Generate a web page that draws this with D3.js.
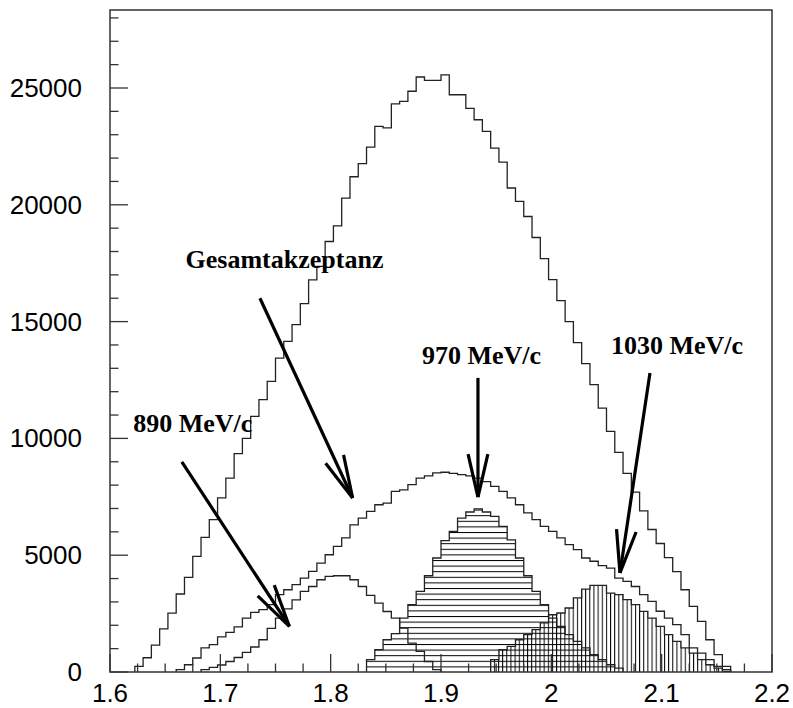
<!DOCTYPE html>
<html>
<head>
<meta charset="utf-8">
<script src="https://cdn.jsdelivr.net/npm/d3@7"></script>
<style>
  html, body { margin: 0; padding: 0; background: #fff; }
  svg { display: block; }
</style>
</head>
<body>
<svg id="chart" width="793" height="708"></svg>
<script>
// ---- data ----
const binStart = 1.6;
const binWidth = 0.0075;
const xTickLabels = ["1.6", "1.7", "1.8", "1.9", "2", "2.1", "2.2"];
const xTickValues = [1.6, 1.7, 1.8, 1.9, 2.0, 2.1, 2.2];
const yTickValues = [0, 5000, 10000, 15000, 20000, 25000];

// total (outer)
const totalCounts = [0,0,0,240,610,1150,1850,2520,3340,4050,
  4950,5760,6520,7450,8300,9350,10000,10940,11660,12440,
  13440,14150,14870,15770,16790,17360,18430,19100,20290,21200,
  21760,22470,23360,23290,24320,24430,24860,25470,25330,25330,
  25560,24710,24710,24130,23640,23140,22430,21830,20720,20150,
  19500,18600,17700,16800,15900,15000,14100,13200,12300,11300,
  10300,9400,8500,7700,6900,6100,5500,4900,4300,3520,
  2810,2170,1380,740,240,0,0,0,0,0];
// Gesamtakzeptanz
const acceptCounts = [0,0,0,0,0,0,0,0,100,310,
  600,1030,1170,1500,1700,1930,2310,2550,2667,2880,
  3310,3520,3740,4020,4310,4665,5020,5380,5740,6300,
  6590,6880,7160,7230,7730,7800,8020,8300,8400,8520,
  8550,8500,8450,8400,8300,8150,7950,7730,7450,7160,
  6810,6520,6230,6020,5740,5450,5240,4880,4740,4550,
  4450,4020,3880,3660,3310,3020,2600,2310,2025,1600,
  1030,810,527,240,100,0,0,0,0,0];
// 890 MeV/c
const p890Counts = [0,0,0,0,0,0,0,0,0,0,
  0,100,200,300,450,620,840,1070,1380,1870,
  2310,2700,3090,3450,3660,3950,4090,4120,4120,3950,
  3660,3280,2950,2590,2310,1880,1240,880,450,100,
  0,0,0,0,0,0,0,0,0,0,
  0,0,0,0,0,0,0,0,0,0,
  0,0,0,0,0,0,0,0,0,0,
  0,0,0,0,0,0,0,0,0,0];
// 970 MeV/c (horizontal hatch)
const p970Counts = [0,0,0,0,0,0,0,0,0,0,
  0,0,0,0,0,0,0,0,0,0,
  0,0,0,0,0,0,0,0,0,0,
  0,530,955,1380,1640,2310,2880,3450,4120,4880,
  5620,6020,6590,6850,6980,6850,6660,6230,5660,4880,
  4120,3450,2880,2310,1950,1600,1310,1030,740,530,
  310,170,0,0,0,0,0,0,0,0,
  0,0,0,0,0,0,0,0,0,0];
// 1030 MeV/c (vertical hatch)
const p1030Counts = [0,0,0,0,0,0,0,0,0,0,
  0,0,0,0,0,0,0,0,0,0,
  0,0,0,0,0,0,0,0,0,0,
  0,0,0,0,0,0,0,0,0,0,
  0,0,0,0,0,0,527,955,1100,1380,
  1600,1810,2100,2450,2525,2740,3170,3550,3710,3710,
  3380,3310,3095,2880,2595,2310,1950,1600,1310,1030,
  810,527,310,170,25,0,0,0,0,0];

const labels = [
  {text: "Gesamtakzeptanz", x: 1.6685, y: 17300},
  {text: "890 MeV/c", x: 1.621, y: 10270},
  {text: "970 MeV/c", x: 1.8828, y: 13190},
  {text: "1030 MeV/c", x: 2.0540, y: 13610}
];
const arrows = [
  {x1: 1.7359, y1: 16000, x2: 1.8199, y2: 7450},
  {x1: 1.6651, y1: 9000, x2: 1.7626, y2: 1950},
  {x1: 1.9335, y1: 12590, x2: 1.9335, y2: 7490},
  {x1: 2.0894, y1: 12800, x2: 2.0622, y2: 4240}
];

// ---- drawing ----
const svg = d3.select("#chart");
const x = d3.scaleLinear().domain([1.6, 2.2]).range([110, 772]);
const y = d3.scaleLinear().domain([0, 28339]).range([672, 10]);

const defs = svg.append("defs");
defs.append("pattern").attr("id", "hatchH").attr("patternUnits", "userSpaceOnUse")
  .attr("width", 10).attr("height", 5.6)
  .append("line").attr("x1", 0).attr("x2", 10).attr("y1", 0.5).attr("y2", 0.5)
  .attr("stroke", "#000").attr("stroke-width", 1);
defs.append("pattern").attr("id", "hatchV").attr("patternUnits", "userSpaceOnUse")
  .attr("width", 4.15).attr("height", 10)
  .append("line").attr("x1", 0.5).attr("x2", 0.5).attr("y1", 0).attr("y2", 10)
  .attr("stroke", "#000").attr("stroke-width", 1);

function stepPath(counts) {
  let first = counts.findIndex(v => v > 0);
  let last = counts.length - 1;
  while (last > 0 && counts[last] === 0) last--;
  const pts = [];
  pts.push([x(binStart + first * binWidth), y(0)]);
  for (let k = first; k <= last; k++) {
    const x0 = x(binStart + k * binWidth), x1 = x(binStart + (k + 1) * binWidth);
    pts.push([x0, y(counts[k])]);
    pts.push([x1, y(counts[k])]);
  }
  pts.push([x(binStart + (last + 1) * binWidth), y(0)]);
  return d3.line()(pts);
}

const g = svg.append("g");
// hatched fills
g.append("path").attr("d", stepPath(p970Counts)).attr("fill", "url(#hatchH)").attr("stroke", "none");
g.append("path").attr("d", stepPath(p1030Counts)).attr("fill", "url(#hatchV)").attr("stroke", "none");
// outlines
[totalCounts, acceptCounts, p890Counts, p970Counts, p1030Counts].forEach(c => {
  g.append("path").attr("d", stepPath(c)).attr("fill", "none")
    .attr("stroke", "#222").attr("stroke-width", 1.3);
});

// frame
svg.append("rect").attr("x", 110).attr("y", 10).attr("width", 662).attr("height", 662)
  .attr("fill", "none").attr("stroke", "#333").attr("stroke-width", 1.5);

// x ticks (inside)
const xTicksMinor = d3.range(0, 25).map(i => 1.6 + i * 0.025);
svg.append("g").selectAll("line").data(xTicksMinor).join("line")
  .attr("x1", d => x(d)).attr("x2", d => x(d))
  .attr("y1", y(0)).attr("y2", (d, i) => y(0) - (i % 4 === 0 ? 18 : 8.5))
  .attr("stroke", "#333").attr("stroke-width", 1.3);
// y ticks
const yTicksMinor = d3.range(0, 29).map(i => i * 1000);
svg.append("g").selectAll("line").data(yTicksMinor).join("line")
  .attr("x1", 110).attr("x2", (d, i) => 110 + (i % 5 === 0 ? 18 : 8.5))
  .attr("y1", d => y(d)).attr("y2", d => y(d))
  .attr("stroke", "#333").attr("stroke-width", 1.3);

// tick labels
svg.append("g").selectAll("text").data(xTickValues).join("text")
  .attr("x", d => x(d)).attr("y", 702).attr("text-anchor", "middle")
  .attr("font-family", "Liberation Sans, Arial, sans-serif").attr("font-size", 26)
  .text((d, i) => xTickLabels[i]);
svg.append("g").selectAll("text").data(yTickValues).join("text")
  .attr("x", 82).attr("y", d => y(d) + 9).attr("text-anchor", "end")
  .attr("font-family", "Liberation Sans, Arial, sans-serif").attr("font-size", 26)
  .text(d => String(d));

// annotations
svg.append("g").selectAll("text").data(labels).join("text")
  .attr("x", d => x(d.x)).attr("y", d => y(d.y))
  .attr("font-family", "Liberation Serif, Times New Roman, serif")
  .attr("font-weight", "bold").attr("font-size", 26)
  .text(d => d.text);

const ag = svg.append("g").attr("stroke", "#000").attr("stroke-width", 3.2)
  .attr("stroke-linecap", "butt").attr("fill", "none");
arrows.forEach(a => {
  const X1 = x(a.x1), Y1 = y(a.y1), X2 = x(a.x2), Y2 = y(a.y2);
  ag.append("line").attr("x1", X1).attr("y1", Y1).attr("x2", X2).attr("y2", Y2);
  const ang = Math.atan2(Y1 - Y2, X1 - X2);
  const L = 44, da = 13 * Math.PI / 180;
  [ang - da, ang + da].forEach(t => {
    ag.append("line").attr("x1", X2).attr("y1", Y2)
      .attr("x2", X2 + L * Math.cos(t)).attr("y2", Y2 + L * Math.sin(t));
  });
});
</script>
</body>
</html>
